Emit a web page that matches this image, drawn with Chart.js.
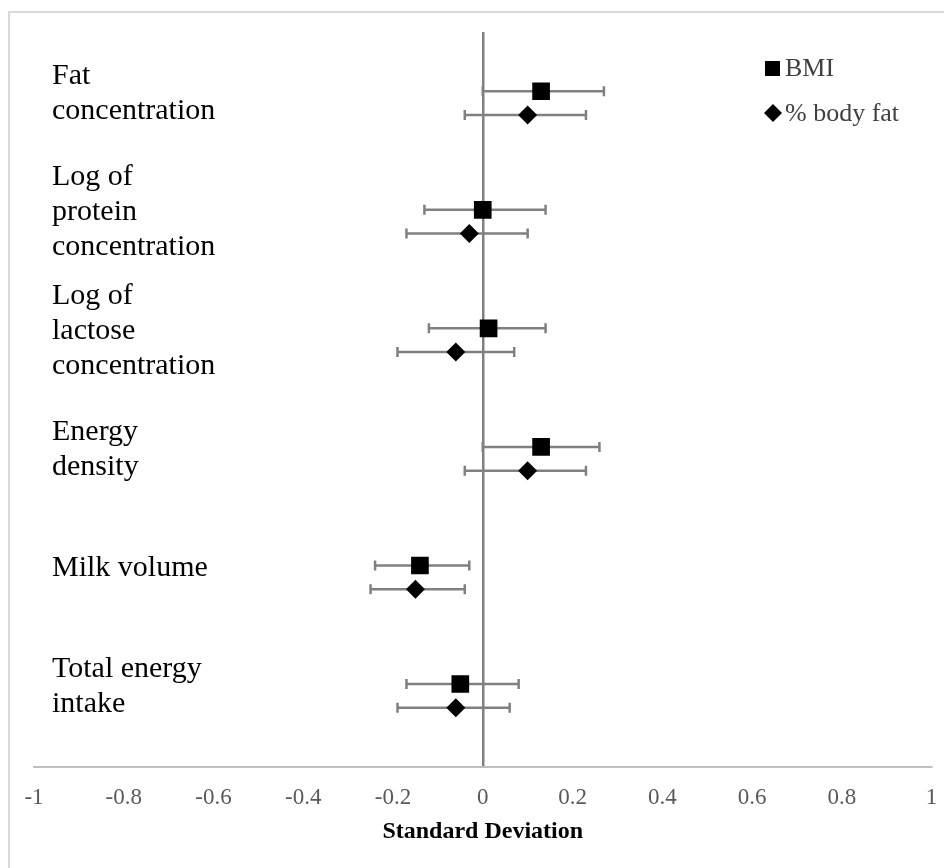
<!DOCTYPE html>
<html>
<head>
  <title>Milk composition vs maternal adiposity</title>
  <script src="https://cdn.jsdelivr.net/npm/chart.js"></script>
  <style>
    body { margin: 0; background: #fff; }
    #wrap { width: 944px; height: 868px; }
  </style>
</head>
<body>
  <div id="wrap"><canvas id="sdChart"></canvas></div>

  <script>
    // category labels (one row per outcome, top to bottom)
    const categories = [
      ['Fat', 'concentration'],
      ['Log of', 'protein', 'concentration'],
      ['Log of', 'lactose', 'concentration'],
      ['Energy', 'density'],
      ['Milk volume'],
      ['Total energy', 'intake']
    ];

    // BMI estimates and error bar ends
    const bmiValues = [0.13, 0.00, 0.013, 0.13, -0.14, -0.05];
    const bmiLow    = [0.00, -0.13, -0.12, 0.00, -0.24, -0.17];
    const bmiHigh   = [0.27, 0.14, 0.14, 0.26, -0.03, 0.08];

    // % body fat estimates and error bar ends
    const fatValues = [0.10, -0.03, -0.06, 0.10, -0.15, -0.06];
    const fatLow    = [-0.04, -0.17, -0.19, -0.04, -0.25, -0.19];
    const fatHigh   = [0.23, 0.10, 0.07, 0.23, -0.04, 0.06];

    const xTicks = [-1, -0.8, -0.6, -0.4, -0.2, 0, 0.2, 0.4, 0.6, 0.8, 1];

    const serif = '"Liberation Serif", "Times New Roman", serif';

    const toPoints = (vals, offset) => vals.map((v, i) => ({ x: v, y: i + offset, row: i }));

    // whiskers drawn under the markers
    const errorBars = {
      id: 'errorBars',
      beforeDatasetsDraw(chart) {
        const { ctx, scales: { x, y } } = chart;
        const sets = [[bmiLow, bmiHigh, 0.5], [fatLow, fatHigh, 0.7]];
        ctx.save();
        ctx.strokeStyle = '#808080';
        ctx.lineWidth = 2.5;
        sets.forEach(([lo, hi, off]) => {
          lo.forEach((l, i) => {
            const py = y.getPixelForValue(i + off);
            const x1 = x.getPixelForValue(l);
            const x2 = x.getPixelForValue(hi[i]);
            ctx.beginPath();
            ctx.moveTo(x1, py); ctx.lineTo(x2, py);
            ctx.moveTo(x1, py - 5); ctx.lineTo(x1, py + 5);
            ctx.moveTo(x2, py - 5); ctx.lineTo(x2, py + 5);
            ctx.stroke();
          });
        });
        ctx.restore();
      }
    };

    // frame + legend in the top right corner
    const decor = {
      id: 'decor',
      beforeDraw(chart) {
        const ctx = chart.ctx;
        ctx.save();
        ctx.strokeStyle = '#d9d9d9';
        ctx.lineWidth = 2;
        ctx.strokeRect(9, 12, 1000, 1000);
        ctx.restore();
      },
      afterDraw(chart) {
        const ctx = chart.ctx;
        ctx.save();
        ctx.fillStyle = '#000';
        ctx.fillRect(765, 61, 15, 15);
        ctx.beginPath();
        ctx.moveTo(773, 104); ctx.lineTo(782, 113); ctx.lineTo(773, 122); ctx.lineTo(764, 113);
        ctx.closePath(); ctx.fill();
        ctx.fillStyle = '#404040';
        ctx.font = '26px ' + serif;
        ctx.textBaseline = 'middle';
        ctx.fillText('BMI', 785, 69);
        ctx.fillText('% body fat', 785, 114);
        ctx.restore();
      }
    };

    new Chart(document.getElementById('sdChart'), {
      type: 'scatter',
      data: {
        datasets: [
          {
            label: 'BMI',
            data: toPoints(bmiValues, 0.5),
            pointStyle: 'rect',
            pointRadius: 12.5,
            pointHoverRadius: 12.5,
            backgroundColor: '#000',
            borderColor: '#000',
            borderWidth: 0
          },
          {
            label: '% body fat',
            data: toPoints(fatValues, 0.7),
            pointStyle: 'rectRot',
            pointRadius: 9.5,
            pointHoverRadius: 9.5,
            backgroundColor: '#000',
            borderColor: '#000',
            borderWidth: 0
          }
        ]
      },
      options: {
        responsive: true,
        maintainAspectRatio: false,
        animation: false,
        layout: { padding: { top: 32, right: 12, bottom: 0, left: 0 } },
        plugins: {
          legend: { display: false },
          tooltip: { enabled: false }
        },
        scales: {
          x: {
            type: 'linear',
            min: -1,
            max: 1,
            afterBuildTicks: s => { s.ticks = xTicks.map(v => ({ value: v })); },
            afterFit: s => { s.height = 101; s.paddingLeft = 0; s.paddingRight = 0; },
            ticks: {
              color: '#595959',
              font: { family: serif, size: 23 },
              padding: 17,
              callback: v => String(v)
            },
            grid: {
              drawTicks: false,
              color: c => (c.tick && c.tick.value === 0 ? '#808080' : 'rgba(0,0,0,0)'),
              lineWidth: 2.5
            },
            border: { display: true, color: '#bfbfbf', width: 2 },
            title: {
              display: true,
              text: 'Standard Deviation',
              color: '#000',
              font: { family: serif, size: 24, weight: 'bold' },
              padding: { top: 6, bottom: 22 }
            }
          },
          y: {
            type: 'linear',
            reverse: true,
            min: 0,
            max: 6.2,
            afterFit: s => { s.width = 34; s.paddingTop = 0; s.paddingBottom = 0; },
            afterBuildTicks: s => { s.ticks = categories.map((c, i) => ({ value: i + 0.52 })); },
            ticks: {
              mirror: true,
              padding: 18,
              color: '#000',
              font: { family: serif, size: 30, lineHeight: 1.17 },
              callback: (v, i) => categories[i]
            },
            grid: { display: false },
            border: { display: false }
          }
        }
      },
      plugins: [errorBars, decor]
    });
  </script>
</body>
</html>
